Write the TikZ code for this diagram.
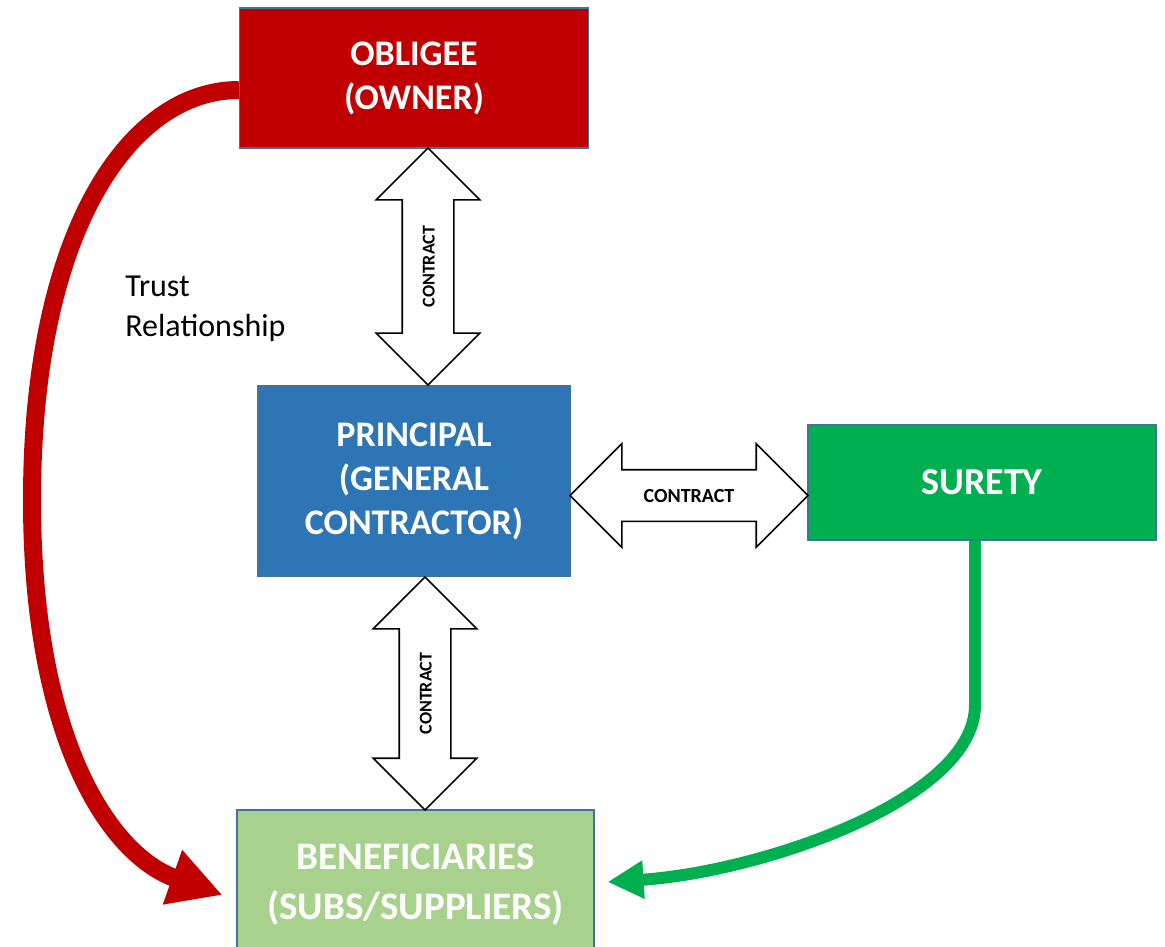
\documentclass[tikz,border=0pt]{standalone}
\usepackage{fontspec}
\setmainfont{Carlito}
\usetikzlibrary{shapes.arrows,arrows.meta,positioning}
\definecolor{ownerred}{HTML}{C00000}
\definecolor{principalblue}{HTML}{2E75B6}
\definecolor{suretygreen}{HTML}{00B050}
\definecolor{benefgreen}{HTML}{A9D18E}
\definecolor{boxedge}{HTML}{41719C}
\begin{document}
\begin{tikzpicture}[x=0.5pt,y=-0.5pt,
	party/.style = {draw=boxedge, line width=0.6pt, text=white, align=center, inner sep=0pt,
		font=\fontsize{18}{22}\selectfont\bfseries},
	contract/.style = {shape=double arrow, draw=black, fill=white, line width=0.8pt,
		double arrow head extend=13pt, double arrow tip angle=90,
		text height=6.5pt, text depth=0pt, inner xsep=0pt, inner ysep=9.25pt,
		font=\fontsize{9}{10}\selectfont\bfseries},
	trustlink/.style = {draw=ownerred, line width=9pt, -{Triangle[length=26.5pt,width=27pt]}},
	suretylink/.style = {draw=suretygreen, line width=6pt, -{Triangle[length=18pt,width=18pt]}}]
	\useasboundingbox (0,0) rectangle (1165,946);
	% parties
	\node[party, fill=ownerred, minimum width=174.5pt, minimum height=70pt] (obligee) at (414,78) {OBLIGEE\\(OWNER)};
	\node[party, fill=principalblue, minimum width=156pt, minimum height=95pt] (principal) at (414,481) {PRINCIPAL\\(GENERAL\\CONTRACTOR)};
	\node[party, fill=suretygreen, minimum width=174pt, minimum height=57.5pt, font=\fontsize{19}{22}\selectfont\bfseries] (surety) at (982,482.5) {SURETY};
	\node[party, fill=benefgreen, minimum width=178.5pt, minimum height=75pt, font=\fontsize{19.5}{25}\selectfont\bfseries] (benef) at (415.5,885) {BENEFICIARIES\\(SUBS/SUPPLIERS)};
	% contracts
	\node[contract, rotate=90, minimum height=118.5pt] (c1) at (428,266.5) {CONTRACT};
	\node[contract, minimum height=119pt, font=\fontsize{10}{11}\selectfont\bfseries] (c2) at (689,495.5) {CONTRACT};
	\node[contract, rotate=90, minimum height=116.5pt] (c3) at (425,693.5) {CONTRACT};
	% trust relationship
	\node[anchor=north west, inner sep=0pt, align=left, font=\fontsize{16}{20}\selectfont] (trust) at (125,276) {Trust\\Relationship};
	\draw[trustlink] ([yshift=-6pt]obligee.west) .. controls (130,90) and (32,230) .. (32,500)
		.. controls (32,740) and (110,855) .. ([xshift=-7pt,yshift=-5pt]benef.west);
	\draw[suretylink] ([xshift=-3.5pt]surety.south) -- (975,705)
		.. controls (975,800) and (760,872) .. ([xshift=6.5pt,yshift=1.5pt]benef.east);
\end{tikzpicture}
\end{document}
